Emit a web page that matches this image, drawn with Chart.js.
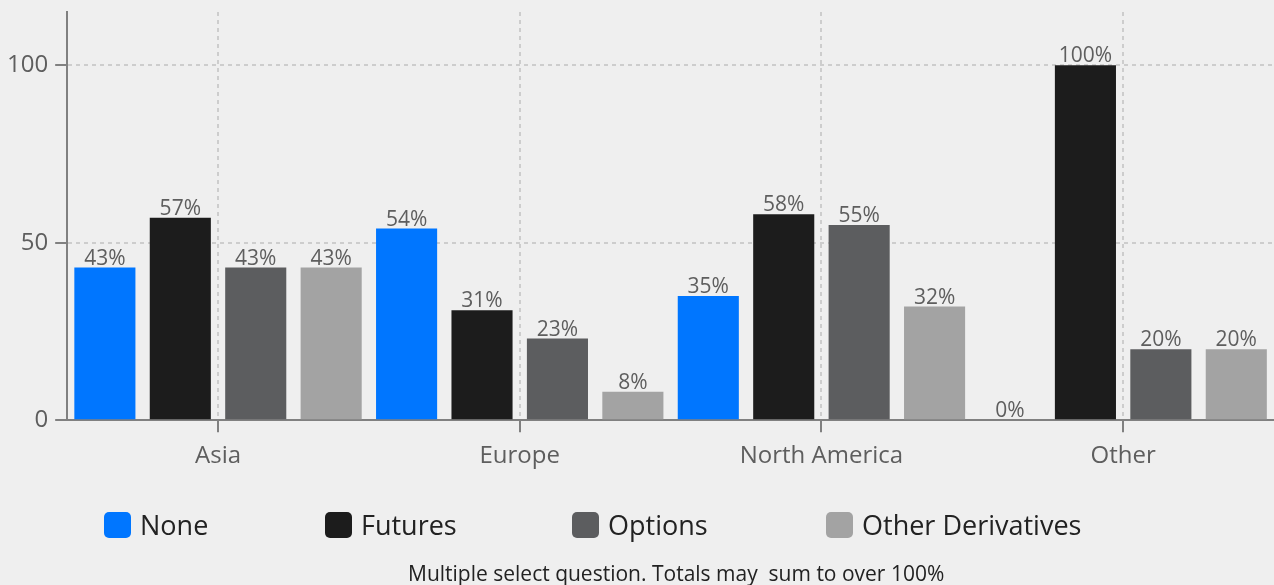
<!DOCTYPE html>
<html>
<head>
<meta charset="utf-8">
<script src="https://cdn.jsdelivr.net/npm/chart.js@4/dist/chart.umd.min.js"></script>
<style>
html,body{margin:0;padding:0;background:#efefef;}
#wrap{position:relative;width:1274px;height:585px;overflow:hidden;font-family:"Open Sans",sans-serif;background:#efefef;}
#c{position:absolute;left:0;top:0;}
.leg{position:absolute;top:505px;height:40px;line-height:40px;font-size:27px;color:#222;white-space:nowrap;}
.leg i{position:absolute;left:0;top:7px;width:27px;height:26px;border-radius:5px;}
.leg span{position:absolute;left:36px;top:0;}
#cap{position:absolute;left:408px;top:559px;font-size:21px;line-height:28px;color:#222;white-space:pre;}
</style>
</head>
<body>
<div id="wrap">
<canvas id="c" width="1274" height="585"></canvas>
<div id="legend"></div>
<div id="cap"></div>
</div>
<script>
const categories = ['Asia', 'Europe', 'North America', 'Other'];
const seriesNames = ['None', 'Futures', 'Options', 'Other Derivatives'];
const noneVals = [43, 54, 35, 0];
const futuresVals = [57, 31, 58, 100];
const optionsVals = [43, 23, 55, 20];
const otherDerivVals = [43, 8, 32, 20];
const yTicks = [0, 50, 100];
const seriesColors = ['#0076ff', '#1c1c1c', '#5c5d5f', '#a3a3a3'];
const captionText = 'Multiple select question. Totals may  sum to over 100%';
const legendLefts = [104, 325, 572, 826];

const allVals = [noneVals, futuresVals, optionsVals, otherDerivVals];

const valueLabels = {
  id: 'valueLabels',
  afterDatasetsDraw(chart) {
    const ctx = chart.ctx;
    ctx.save();
    ctx.font = '21px "Open Sans"';
    ctx.fillStyle = '#5e5e5e';
    ctx.textAlign = 'center';
    ctx.textBaseline = 'alphabetic';
    chart.data.datasets.forEach((ds, di) => {
      const meta = chart.getDatasetMeta(di);
      meta.data.forEach((bar, i) => {
        ctx.fillText(ds.data[i] + '%', bar.x, bar.y - 3);
      });
    });
    ctx.restore();
  }
};

new Chart(document.getElementById('c'), {
  type: 'bar',
  data: {
    labels: categories,
    datasets: seriesNames.map((n, i) => ({
      label: n,
      data: allVals[i],
      backgroundColor: seriesColors[i],
      borderWidth: 0,
      categoryPercentage: 1.0,
      barPercentage: 0.81
    }))
  },
  options: {
    responsive: false,
    devicePixelRatio: 1,
    animation: false,
    layout: { padding: { top: 12, left: 0, right: 0, bottom: 104 } },
    plugins: { legend: { display: false }, tooltip: { enabled: false } },
    scales: {
      x: {
        grid: {
          offset: false,
          color: '#cdcdcd',
          lineWidth: 2,
          borderDash: [4, 4],
          tickColor: '#808080',
          tickWidth: 2,
          tickLength: 12,
          tickBorderDash: []
        },
        border: { color: '#808080', width: 2, dash: [4, 4] },
        ticks: { color: '#5e5e5e', font: { family: 'Open Sans', size: 24 }, padding: 10, maxRotation: 0 },
        afterFit: (s) => { s.paddingLeft = 0; s.paddingRight = 0; }
      },
      y: {
        min: 0,
        max: 115,
        afterBuildTicks: (s) => { s.ticks = yTicks.map(v => ({ value: v })); },
        afterFit: (s) => { s.paddingTop = 0; s.paddingBottom = 0; },
        grid: {
          color: '#cdcdcd',
          lineWidth: 2,
          borderDash: [4, 4],
          tickColor: '#808080',
          tickWidth: 2,
          tickLength: 12,
          tickBorderDash: []
        },
        border: { color: '#808080', width: 2, dash: [4, 4] },
        ticks: { color: '#5e5e5e', font: { family: 'Open Sans', size: 24 }, padding: 7 }
      }
    }
  },
  plugins: [valueLabels]
});

const legendEl = document.getElementById('legend');
seriesNames.forEach((n, i) => {
  const d = document.createElement('div');
  d.className = 'leg';
  d.style.left = legendLefts[i] + 'px';
  const box = document.createElement('i');
  box.style.background = seriesColors[i];
  const t = document.createElement('span');
  t.textContent = n;
  d.appendChild(box);
  d.appendChild(t);
  legendEl.appendChild(d);
});
document.getElementById('cap').textContent = captionText;
</script>
</body>
</html>
